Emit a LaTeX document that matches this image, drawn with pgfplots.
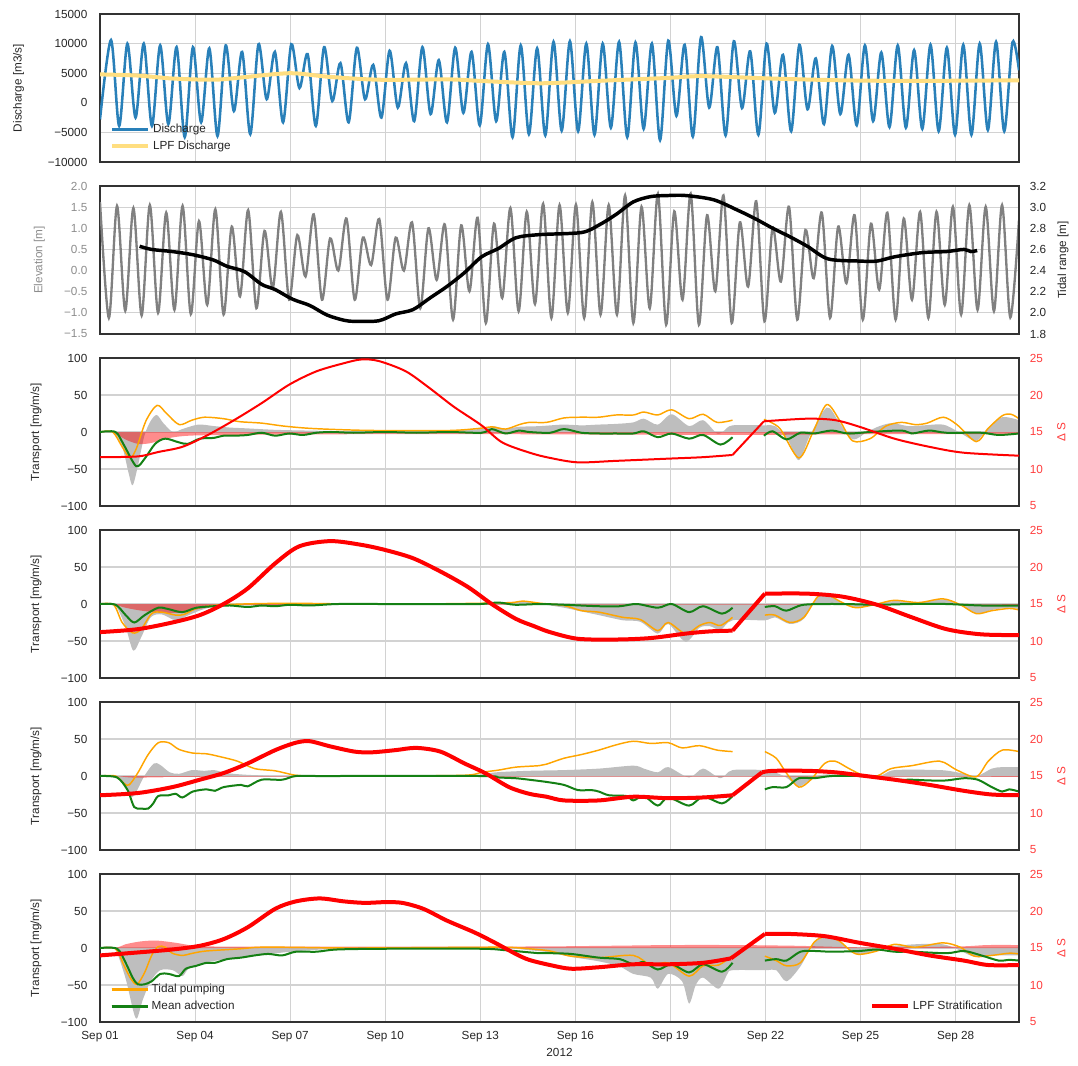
\documentclass[border=0pt]{standalone}
\usepackage{pgfplots}
\pgfplotsset{compat=1.18}
\usepackage{fontspec}
\setmainfont{Liberation Sans}

\definecolor{qblue}{RGB}{41,128,185}
\definecolor{qyellow}{RGB}{255,222,128}
\definecolor{elev}{RGB}{128,128,128}
\definecolor{elevtxt}{RGB}{140,140,140}
\definecolor{qorange}{RGB}{255,165,0}
\definecolor{qgreen}{RGB}{20,128,20}
\definecolor{qred}{RGB}{255,0,0}
\definecolor{redtxt}{RGB}{255,60,60}
\definecolor{shade}{RGB}{190,190,190}
\definecolor{gridc}{RGB}{210,210,210}
\definecolor{framec}{RGB}{50,50,50}
\definecolor{txt}{RGB}{38,38,38}

\newcommand{\tfont}{\fontsize{8.8}{10.5}\selectfont}

\pgfplotsset{
  panel/.style={
    scale only axis, width=689.25pt, height=111pt,
    xmin=0, xmax=29.0, xtick={0,3,...,27},
    major tick length=0pt, scaled ticks=false,
    tick label style={font=\tfont, text=txt},
    axis line style={draw=framec, line width=1.1pt},
    anchor=north west,
  },
  leftpanel/.style={
    panel, grid=major, grid style={draw=gridc, line width=0.8pt},
    xticklabels={},
    yticklabel style={xshift=-6pt},
    every axis y label/.style={at={(axis description cs:#1,0.5)}, rotate=90, anchor=center, font=\tfont, text=txt},
  },
  rightpanel/.style={
    panel, axis x line=none, axis y line*=right,
    yticklabel style={xshift=4.6pt},
    every axis y label/.style={at={(axis description cs:#1,0.5)}, rotate=90, anchor=center, font=\tfont, text=txt},
  },
  leg/.style={
    legend style={draw=none, fill=none, font=\tfont, text=txt, inner sep=0pt, row sep=1pt},
    legend cell align=left,
    legend image code/.code={\draw[##1] (0pt,0pt) -- (22.5pt,0pt); \path (0pt,0pt) -- (27pt,0pt);},
  },
  transport/.style={
    ymin=-100, ymax=100, ytick={-100,-50,0,50,100},
    yticklabels={−100,−50,0,50,100}, ylabel={Transport [mg/m/s]},
  },
  dsalt/.style={
    ymin=5, ymax=25, ytick={5,10,15,20,25}, yticklabels={5,10,15,20,25},
    yticklabel style={text=redtxt}, ylabel={Δ S},
    every axis y label/.append style={text=redtxt},
  },
}

\begin{document}
\begin{tikzpicture}
\path[use as bounding box] (0,0) rectangle (808.5pt,-798.75pt);

% ---------------- Discharge ----------------
\begin{axis}[leftpanel=-0.0885, at={(75pt,-10.5pt)}, leg,
  ymin=-10000, ymax=15000, ytick={-10000,-5000,0,5000,10000,15000},
  yticklabels={−10000,−5000,0,5000,10000,15000},
  ylabel={Discharge [m3/s]},
  legend style={at={(axis description cs:0.011,0.05)}, anchor=south west}]
\addplot[qblue, line width=1.9pt, smooth] coordinates {
(0,-2800)
(0.347,10600) (0.605,-3900) (0.864,10000) (1.122,-2500)
(1.381,10000) (1.639,-3900) (1.899,9700) (2.157,-3600)
(2.416,9400) (2.674,-5800) (2.933,9400) (3.191,-3300)
(3.450,9200) (3.708,-5600) (3.967,9700) (4.225,-1400)
(4.485,8600) (4.743,-5300) (5.002,9900) (5.260,600)
(5.519,8600) (5.777,-3300) (6.036,9900) (6.294,2500)
(6.553,8200) (6.811,-3900) (7.071,9400) (7.329,300)
(7.588,6700) (7.846,-3300) (8.105,9300) (8.363,600)
(8.622,6400) (8.880,-2500) (9.139,8800) (9.397,-800)
(9.657,6700) (9.915,-3100) (10.174,9400) (10.432,-1900)
(10.691,7200) (10.949,-3300) (11.208,9300) (11.466,-1700)
(11.725,8600) (11.983,-3800) (12.243,9900) (12.501,-3100)
(12.760,8600) (13.018,-5800) (13.277,9700) (13.535,-5300)
(13.794,9200) (14.052,-5500) (14.311,10300) (14.569,-4700)
(14.829,10400) (15.087,-4800) (15.346,10000) (15.604,-5400)
(15.863,10000) (16.121,-4200) (16.380,10300) (16.638,-5800)
(16.897,10200) (17.155,-4400) (17.415,10000) (17.673,-6300)
(17.932,10500) (18.190,-2200) (18.449,9800) (18.707,-5700)
(18.966,11100) (19.224,-800) (19.483,9400) (19.741,-5500)
(20.001,10400) (20.259,-900) (20.518,8700) (20.776,-5400)
(21.035,10000) (21.293,-1700) (21.552,8100) (21.810,-4800)
(22.069,9800) (22.327,-1100) (22.587,7500) (22.845,-3600)
(23.104,9600) (23.362,-1900) (23.621,8100) (23.879,-3800)
(24.138,9700) (24.396,-3100) (24.655,8500) (24.913,-4100)
(25.173,9700) (25.431,-4200) (25.690,8900) (25.948,-4400)
(26.207,9800) (26.465,-4800) (26.724,9300) (26.982,-5400)
(27.241,9800) (27.499,-5400) (27.759,10000) (28.017,-4600)
(28.276,10300) (28.534,-4800) (28.793,10200) (29.0,5500)
};
\addlegendentry{Discharge}
\addplot[qyellow, line width=3pt, smooth] coordinates {
(0,4800) (1.2,4600) (2.3,4100) (3.6,3900) (4.5,4300) (6.0,5000)
(7.2,4400) (8.8,3900) (11,3950) (12,3700) (13.9,3300) (15.7,3700)
(17.9,4200) (19,4500) (21.2,4100) (23.4,3800) (25.6,3700) (29.0,3800)
};
\addlegendentry{LPF Discharge}
\end{axis}

% ---------------- Elevation / tidal range ----------------
\begin{axis}[leftpanel=-0.066, at={(75pt,-139.5pt)},
  ymin=-1.5, ymax=2.0, ytick={-1.5,-1,-0.5,0,0.5,1,1.5,2},
  yticklabels={−1.5,−1.0,−0.5,0.0,0.5,1.0,1.5,2.0},
  yticklabel style={text=elevtxt},
  ylabel={Elevation [m]}, every axis y label/.append style={text=elevtxt}]
\addplot[elev, line width=1.75pt, smooth] coordinates {
(0,1.62) (0.280,-1.12)
(0.537,1.53) (0.797,-0.95) (1.054,1.48) (1.314,-1.06)
(1.572,1.55) (1.832,-1.00) (2.089,1.37) (2.349,-0.93)
(2.606,1.53) (2.866,-1.03) (3.123,1.17) (3.383,-0.81)
(3.640,1.45) (3.900,-1.04) (4.158,1.04) (4.418,-0.61)
(4.675,1.43) (4.935,-0.89) (5.192,0.94) (5.452,-0.42)
(5.709,1.39) (5.969,-0.69) (6.226,0.84) (6.486,-0.14)
(6.744,1.33) (7.004,-0.69) (7.261,0.76) (7.521,0.00)
(7.778,1.23) (8.038,-0.69) (8.295,0.78) (8.555,0.13)
(8.812,1.22) (9.072,-0.69) (9.330,0.78) (9.590,0.00)
(9.847,1.14) (10.107,-0.89) (10.364,1.00) (10.624,-0.22)
(10.881,1.09) (11.141,-1.16) (11.398,1.07) (11.658,-0.49)
(11.916,1.25) (12.176,-1.24) (12.433,1.11) (12.693,-0.65)
(12.950,1.48) (13.210,-0.96) (13.467,1.39) (13.727,-0.79)
(13.984,1.58) (14.244,-1.12) (14.502,1.55) (14.762,-1.00)
(15.019,1.56) (15.279,-1.12) (15.536,1.62) (15.796,-1.04)
(16.053,1.55) (16.313,-1.04) (16.570,1.78) (16.830,-1.24)
(17.088,1.51) (17.348,-0.89) (17.605,1.82) (17.865,-1.28)
(18.122,1.40) (18.382,-0.69) (18.639,1.82) (18.899,-1.28)
(19.156,1.31) (19.416,-0.49) (19.674,1.78) (19.934,-1.24)
(20.191,1.14) (20.451,-0.38) (20.708,1.64) (20.968,-1.20)
(21.225,1.01) (21.485,-0.26) (21.742,1.51) (22.002,-1.16)
(22.260,0.96) (22.520,-0.18) (22.777,1.37) (23.037,-1.12)
(23.294,1.04) (23.554,-0.30) (23.811,1.31) (24.071,-1.16)
(24.328,1.11) (24.588,-0.45) (24.846,1.37) (25.106,-1.16)
(25.363,1.23) (25.623,-0.69) (25.880,1.39) (26.140,-1.12)
(26.397,1.39) (26.657,-0.81) (26.914,1.51) (27.174,-1.04)
(27.432,1.55) (27.692,-0.93) (27.949,1.51) (28.209,-0.96)
(28.466,1.55) (28.726,-1.11) (29.0,1.20)
};
\end{axis}
\begin{axis}[rightpanel=1.048, at={(75pt,-139.5pt)},
  ymin=1.8, ymax=3.2, ytick={1.8,2.0,2.2,2.4,2.6,2.8,3.0,3.2},
  yticklabels={1.8,2.0,2.2,2.4,2.6,2.8,3.0,3.2},
  ylabel={Tidal range [m]}]
\addplot[black, line width=2.6pt, smooth] coordinates {
(1.25,2.63) (1.63,2.60) (2.28,2.58) (2.93,2.55) (3.58,2.50) (4.01,2.44)
(4.56,2.39) (5.10,2.27) (5.53,2.22) (6.07,2.13) (6.62,2.07) (7.16,1.98)
(7.70,1.93) (8.03,1.92) (8.79,1.925) (9.33,1.99) (9.87,2.03) (10.41,2.14)
(10.95,2.25) (11.50,2.38) (12.04,2.53) (12.58,2.61) (13.12,2.71) (13.86,2.74)
(15.19,2.76) (15.74,2.83) (16.28,2.93) (16.83,3.05) (17.38,3.10) (17.93,3.11)
(18.48,3.11) (19.36,3.07) (20.13,2.97) (20.68,2.89) (21.23,2.80) (21.77,2.72)
(22.32,2.63) (22.98,2.51) (23.97,2.49) (24.52,2.49) (25.07,2.53) (25.95,2.57)
(26.71,2.58) (27.26,2.60) (27.48,2.58) (27.68,2.59)
};
\end{axis}

% ---------------- Transport, station A ----------------
\begin{axis}[leftpanel=-0.0696, at={(75pt,-268.5pt)}, transport]
\addplot[draw=none, fill=shade, smooth] coordinates {
(0,0) (0.4,0) (0.7,-20) (0.9,-55) (1.03,-72) (1.2,-45) (1.4,-5) (1.6,15)
(1.79,23) (2.0,12) (2.3,0) (2.6,4) (3.1,10) (3.6,8) (4.1,6) (4.6,5) (5.5,3)
(6.5,2) (8,1) (10,1) (12,4) (12.4,8) (12.8,4) (13.2,7) (13.9,8) (14.6,10)
(15.2,9) (15.7,10) (16.3,11) (16.83,13) (17.16,18) (17.6,10) (18.04,24)
(18.59,8) (19.03,16) (19.47,-2) (19.7,2) (19.96,9) (20.95,9) (21.3,8)
(21.7,-10) (22.05,-38) (22.4,-5) (22.93,33) (23.3,15) (23.75,-10) (24.2,0)
(24.6,8) (25.0,12) (25.5,8) (26.0,9) (26.61,10) (27.1,0) (27.65,-12)
(28.0,5) (28.47,20) (29.0,16)
} \closedcycle;
\addplot[draw=none, fill=red, fill opacity=0.45, smooth] coordinates {
(0,0) (0.4,0) (0.8,-10) (1.2,-16) (1.6,-15) (2.2,-8) (2.8,-5) (4,-4) (8,-3)
(13,-3) (20,-4) (24,-3) (29.0,-3)
} \closedcycle;
\addplot[qorange, line width=1.1pt, smooth] coordinates {
(0,0) (0.4,0) (0.7,-20) (0.95,-35) (1.15,-22) (1.45,15) (1.8,36) (2.1,25)
(2.5,10) (2.9,16) (3.3,20) (3.9,18) (4.4,14) (5.1,12) (5.8,8) (6.6,5)
(7.7,3) (8.8,2) (11,2) (12,5) (12.36,7) (12.8,4) (13.23,10) (13.54,13)
(14.09,13) (14.64,19) (15.19,20) (15.74,20) (16.28,23) (16.83,23)
(17.16,27) (17.6,23) (18.04,30) (18.59,18) (19.03,24) (19.47,13) (19.96,16)
};
\addplot[qorange, line width=1.1pt, smooth] coordinates {
(20.95,17) (21.45,5) (22.05,-35) (22.5,0) (22.93,37) (23.35,15) (23.75,-12)
(24.3,-9) (24.8,8) (25.29,13) (25.73,10) (26.1,12) (26.61,20) (27.04,10)
(27.65,-13) (28.03,5) (28.47,22) (28.75,24) (29.0,18)
};
\addplot[qgreen, line width=1.5pt, smooth] coordinates {
(0,0) (0.49,0) (0.76,-18) (1.14,-46) (1.41,-36) (1.74,-16) (2.06,-9)
(2.49,-14) (2.77,-16) (3.15,-9) (3.58,-8) (3.9,-5) (4.23,-5) (4.66,-4)
(5.1,-1) (5.53,-5) (5.97,-2) (6.4,-4) (6.83,-1) (7.3,0) (8,-1) (9,0)
(10,-1) (11,0) (12.04,-1) (12.36,4) (12.8,-2) (13.23,2) (13.54,0) (14.2,-1)
(14.64,4) (15.19,-1) (15.74,-2) (16.28,-2) (16.83,-2) (17.16,1) (17.6,-7)
(18.04,-2) (18.59,-9) (19.03,-4) (19.58,-17) (19.96,-7)
};
\addplot[qgreen, line width=1.5pt, smooth] coordinates {
(20.95,-5) (21.23,1) (21.66,-10) (22.1,-1) (22.54,-2) (23.09,2) (23.6,-2)
(24.3,0) (25.29,2) (25.62,-2) (26.17,2) (26.71,-1) (27.8,-1) (28.36,-4)
(29.0,-2)
};
\end{axis}
\begin{axis}[rightpanel=1.046, at={(75pt,-268.5pt)}, dsalt]
\addplot[qred, line width=1.5pt, smooth] coordinates {
(0,11.6) (1.19,11.7) (1.84,12.3) (2.6,13.0) (3.36,14.5) (4.23,16.6)
(5.1,18.9) (5.97,21.4) (6.83,23.2) (7.7,24.3) (8.24,24.8) (8.79,24.6)
(9.65,23.2) (10.41,20.9) (11.17,18.4) (12.04,15.9) (12.69,13.6)
(13.56,12.2) (14.2,11.5) (15.08,10.9) (16.28,11.1) (17.93,11.4)
(19.03,11.6) (19.96,11.9)
};
\addplot[qred, line width=1.5pt] coordinates {(19.96,11.9) (20.95,16.45)};
\addplot[qred, line width=1.5pt, smooth] coordinates {
(20.95,16.45) (22.32,16.8) (23.2,16.6) (23.97,15.7) (25.07,14.1)
(26.17,13.0) (27.26,12.2) (29.0,11.8)
};
\end{axis}

% ---------------- Transport, station B ----------------
\begin{axis}[leftpanel=-0.0696, at={(75pt,-397.5pt)}, transport]
\addplot[draw=none, fill=shade, smooth] coordinates {
(0,0) (0.45,0) (0.8,-30) (1.05,-63) (1.3,-45) (1.6,-18) (1.95,-14)
(2.39,-22) (2.8,-15) (3.2,-8) (3.6,-4) (4.5,-2) (6,-1) (10,-1) (12.5,0)
(13.34,3) (13.9,0) (14.64,-5) (15.19,-10) (15.74,-15) (16.5,-22)
(17.05,-24) (17.6,-40) (17.93,-27) (18.48,-51) (18.92,-32) (19.25,-30)
(19.58,-35) (19.96,-22) (20.98,-22) (21.3,-18) (21.77,-27) (22.21,-20)
(22.65,10) (22.98,12) (23.42,1) (23.86,-5) (24.52,0) (25.07,4) (25.84,2)
(26.6,6) (27.15,-1) (27.65,-13) (28.14,-8) (28.69,-5) (29.0,-7)
} \closedcycle;
\addplot[draw=none, fill=red, fill opacity=0.45, smooth] coordinates {
(0,0) (0.4,0) (0.8,-5) (1.5,-10) (2.5,-12) (3.2,-6) (4,-2) (6,-1) (29.0,-1)
} \closedcycle;
\addplot[qorange, line width=1.1pt, smooth] coordinates {
(0,0) (0.43,-1) (0.7,-25) (1.03,-39) (1.3,-34) (1.63,-13) (1.95,-11)
(2.39,-15) (2.66,-14) (3.04,-6) (3.58,-2) (4.5,0) (6,1) (8,0) (10,0)
(12,1) (13.0,2) (13.34,4) (13.9,1) (14.64,-2) (15.19,-9) (15.74,-11)
(16.5,-18) (17.05,-21) (17.6,-36) (17.93,-25) (18.48,-40) (18.92,-29)
(19.25,-25) (19.58,-29) (19.96,-18)
};
\addplot[qorange, line width=1.1pt, smooth] coordinates {
(20.98,-15) (21.3,-15) (21.77,-25) (22.21,-18) (22.65,10) (22.98,12)
(23.42,2) (23.86,-5) (24.52,0) (25.07,5) (25.84,2) (26.6,7) (27.15,-1)
(27.65,-13) (28.14,-9) (28.69,-6) (29.0,-8)
};
\addplot[qgreen, line width=1.5pt, smooth] coordinates {
(0,0) (0.49,-1) (0.81,-15) (1.08,-25) (1.41,-15) (1.84,-5) (2.17,-7)
(2.6,-11) (3.04,-5) (3.58,-3) (4.1,-2) (4.66,-4) (5.1,-2) (5.53,-3)
(6.0,-1) (6.62,-2) (7.5,0) (9,0) (11,0) (12.0,0) (12.58,2) (13.1,-1)
(13.9,0) (14.64,-1) (15.74,-3) (16.4,-3) (16.94,0) (17.6,-5) (18.04,0)
(18.59,-11) (19.03,-3) (19.63,-13) (19.96,-5)
};
\addplot[qgreen, line width=1.5pt, smooth] coordinates {
(20.98,-4) (21.3,-3) (21.66,-9) (22.21,-1) (23.4,0) (24.5,-1) (25.6,0)
(26.7,0) (27.8,-2) (29.0,-2)
};
\end{axis}
\begin{axis}[rightpanel=1.046, at={(75pt,-397.5pt)}, dsalt]
\addplot[qred, line width=3pt, smooth] coordinates {
(0,11.2) (1.19,11.6) (2.28,12.5) (3.15,13.5) (3.9,15.0) (4.66,17.1)
(5.53,20.5) (6.29,22.8) (7.27,23.5) (8.24,23.0) (9.0,22.3) (9.87,21.2)
(10.74,19.4) (11.61,17.3) (12.36,15.0) (13.12,13.0) (13.7,12.0)
(14.2,11.2) (15.08,10.3) (16.28,10.2) (17.38,10.4) (18.48,11.0)
(19.25,11.3) (19.96,11.4)
};
\addplot[qred, line width=3pt] coordinates {(19.96,11.4) (20.98,16.4)};
\addplot[qred, line width=3pt, smooth] coordinates {
(20.98,16.4) (22.32,16.4) (23.42,16.0) (24.52,14.9) (25.62,13.2)
(26.71,11.6) (27.81,10.9) (29.0,10.8)
};
\end{axis}

% ---------------- Transport, station C ----------------
\begin{axis}[leftpanel=-0.0696, at={(75pt,-526.5pt)}, transport]
\addplot[draw=none, fill=shade, smooth] coordinates {
(0,0) (0.5,0) (0.8,-15) (0.95,-28) (1.1,-25) (1.4,0) (1.7,17) (1.9,15)
(2.2,5) (2.5,3) (2.9,8) (3.3,7) (3.6,8) (4.0,4) (4.5,2) (5,1) (6,0) (11,0)
(12.0,2) (12.5,5) (13.5,7) (14.64,8) (15.74,10) (16.83,14) (17.16,10)
(17.6,5) (17.93,12) (18.59,-2) (19.03,10) (19.58,-3) (19.96,8) (20.98,8)
(21.3,5) (21.66,-2) (22.05,-14) (22.43,-5) (22.87,2) (24.52,0) (25.07,8)
(26.5,8) (27.04,5) (27.65,0) (28.14,10) (28.47,12) (29.0,12)
} \closedcycle;
\addplot[draw=none, fill=red, fill opacity=0.45, smooth] coordinates {
(0,0) (0.5,0) (1,-2) (2,-2) (3,-1) (29.0,-1)
} \closedcycle;
\addplot[qorange, line width=1.1pt, smooth] coordinates {
(0,0) (0.49,0) (0.76,-10) (0.92,-12) (1.19,4) (1.52,29) (1.84,45)
(2.17,45) (2.49,36) (2.93,31) (3.36,30) (3.8,26) (4.34,20) (4.88,10)
(5.53,7) (6.18,1) (6.83,0) (9,0) (11.5,1) (12.04,5) (12.58,8) (13.12,12)
(13.86,14) (14.09,16) (14.64,24) (15.19,29) (15.74,35) (16.28,42)
(16.83,47) (17.38,44) (17.93,45) (18.37,38) (18.92,41) (19.47,35) (19.96,33)
};
\addplot[qorange, line width=1.1pt, smooth] coordinates {
(20.98,33) (21.34,24) (21.66,4) (22.05,-15) (22.43,-5) (22.87,17) (23.2,20)
(23.64,10) (24.08,1) (24.52,0) (24.96,10) (25.62,14) (26.5,20) (27.04,8)
(27.65,-1) (28.03,20) (28.47,35) (29.0,33)
};
\addplot[qgreen, line width=1.5pt, smooth] coordinates {
(0,0) (0.54,-2) (0.87,-19) (1.08,-42) (1.3,-44) (1.52,-44) (1.68,-37)
(1.84,-27) (2.17,-26) (2.39,-24) (2.6,-29) (2.93,-21) (3.36,-18)
(3.63,-20) (3.9,-15) (4.45,-12) (4.66,-14) (5.1,-5) (5.75,-5) (6.18,0)
(7,0) (12,0) (12.58,-2) (13.12,-3) (13.54,-5) (14.09,-8) (14.64,-12)
(15.08,-19) (15.5,-19) (15.74,-21) (16.06,-26) (16.61,-27) (16.83,-33)
(17.16,-27) (17.6,-40) (17.93,-29) (18.59,-40) (19.03,-28) (19.63,-37)
(19.96,-27)
};
\addplot[qgreen, line width=1.5pt, smooth] coordinates {
(20.98,-18) (21.23,-15) (21.66,-15) (22.05,-3) (22.54,-3) (23.09,0)
(23.97,0) (24.52,-1) (25.07,-5) (25.62,-5) (26.17,-6) (26.71,-6)
(27.26,-3) (27.7,-5) (28.14,-15) (28.47,-21) (28.69,-18) (29.0,-21)
};
\end{axis}
\begin{axis}[rightpanel=1.046, at={(75pt,-526.5pt)}, dsalt]
\addplot[qred, line width=3pt, smooth] coordinates {
(0,12.4) (1.19,12.7) (2.28,13.5) (3.15,14.5) (3.9,15.4) (4.66,16.7)
(5.53,18.5) (6.18,19.5) (6.62,19.7) (7.27,19.0) (8.03,18.3) (8.57,18.2)
(9.33,18.5) (9.98,18.8) (10.74,18.3) (11.5,16.7) (12.15,15.4) (12.91,13.5)
(13.54,12.6) (14.09,12.2) (14.64,11.7) (15.74,11.7) (16.83,12.2)
(17.93,12.0) (19.03,12.1) (19.96,12.4)
};
\addplot[qred, line width=3pt] coordinates {(19.96,12.4) (20.89,15.5)};
\addplot[qred, line width=3pt, smooth] coordinates {
(20.89,15.5) (21.23,15.7) (22.32,15.7) (23.2,15.5) (23.97,15.1)
(25.07,14.5) (26.17,13.8) (27.26,13.0) (28.14,12.5) (29.0,12.4)
};
\end{axis}

% ---------------- Transport, station D ----------------
\begin{axis}[leftpanel=-0.0696, at={(75pt,-655.5pt)}, transport, leg,
  xticklabels={Sep 01,Sep 04,Sep 07,Sep 10,Sep 13,Sep 16,Sep 19,Sep 22,Sep 25,Sep 28},
  xticklabel style={yshift=-3.5pt},
  xlabel={2012},
  every axis x label/.style={at={(axis description cs:0.5,-0.203)}, anchor=center, font=\tfont, text=txt},
  legend image post style={line width=2pt},
  legend style={at={(axis description cs:0.011,0.05)}, anchor=south west}]
\addplot[draw=none, fill=shade, smooth, forget plot] coordinates {
(0,0) (0.45,0) (0.8,-40) (1.05,-85) (1.17,-95) (1.35,-70) (1.6,-45)
(1.9,-30) (2.3,-30) (2.6,-38) (2.8,-28) (3.3,-20) (4,-15) (5,-10) (6,-5)
(7,-2) (8,0) (12.5,0) (13.54,-3) (14.2,-6) (14.86,-12) (15.74,-18)
(16.4,-25) (16.83,-35) (17.38,-40) (17.6,-55) (17.93,-35) (18.37,-45)
(18.59,-75) (18.8,-50) (19.03,-40) (19.52,-55) (19.8,-35) (19.96,-30)
(20.98,-30) (21.34,-30) (21.66,-45) (22.1,-25) (22.5,5) (22.87,15)
(23.3,10) (23.86,-8) (24.52,-4) (25.07,3) (26.6,5) (27.59,-12) (28.14,-10)
(29.0,-10)
} \closedcycle;
\addplot[draw=none, fill=red, fill opacity=0.45, smooth, forget plot] coordinates {
(0,0) (0.5,0) (0.8,5) (1.3,9) (1.8,10) (2.4,7) (3,3) (4,2) (13,2) (16,3)
(18,4) (20,4) (22,3) (24,1) (27,2) (28,4) (29.0,4)
} \closedcycle;
\addplot[qorange, line width=1.1pt, smooth] coordinates {
(0,0) (0.49,-1) (0.76,-24) (0.98,-42) (1.17,-49) (1.41,-33) (1.63,-10)
(1.84,2) (2.06,1) (2.28,-7) (2.6,-10) (2.93,-7) (3.36,-4) (4.45,-1)
(4.99,1) (6,1) (8,0) (12,1) (12.9,1) (13.54,-1) (14.2,-4) (14.86,-11)
(15.74,-13) (16.83,-10) (17.38,-23) (17.93,-20) (18.59,-38) (19.03,-24)
(19.52,-23) (19.96,-10)
};
\addlegendentry{Tidal pumping}
\addplot[qorange, line width=1.1pt, smooth, forget plot] coordinates {
(20.98,-11) (21.34,-17) (21.66,-24) (22.1,-20) (22.54,8) (22.87,15)
(23.31,10) (23.86,-8) (24.52,-4) (25.07,5) (25.73,1) (26.6,7) (27.15,1)
(27.59,-11) (28.14,-10) (28.69,-7) (29.0,-8)
};
\addplot[qgreen, line width=1.5pt, smooth] coordinates {
(0,0) (0.54,-1) (0.81,-20) (1.03,-40) (1.19,-49) (1.41,-49) (1.63,-45)
(1.9,-35) (2.17,-35) (2.49,-38) (2.71,-28) (3.04,-24) (3.36,-20)
(3.63,-20) (4.01,-15) (4.45,-13) (4.88,-10) (5.31,-8) (5.75,-10)
(6.18,-5) (6.83,-5) (7.48,-2) (9,-1) (12,-1) (12.8,-3) (13.86,-7)
(14.2,-7) (14.86,-8) (15.74,-13) (16.4,-15) (16.83,-22) (17.16,-19)
(17.6,-29) (18.04,-22) (18.59,-33) (19.03,-22) (19.63,-32) (19.96,-20)
};
\addlegendentry{Mean advection}
\addplot[qgreen, line width=1.5pt, smooth, forget plot] coordinates {
(20.98,-17) (21.34,-15) (21.66,-17) (22.1,-5) (22.54,-4) (23.09,-5)
(23.97,-4) (24.52,-2) (25.07,-5) (25.62,-5) (26.71,-7) (27.26,-4)
(27.81,-10) (28.36,-17) (28.69,-16) (29.0,-17)
};
\end{axis}
\begin{axis}[rightpanel=1.046, at={(75pt,-655.5pt)}, dsalt, leg,
  legend style={at={(axis description cs:0.985,0.05)}, anchor=south east}]
\addplot[qred, line width=3pt, smooth] coordinates {
(0,14.0) (1.19,14.4) (2.28,14.8) (3.15,15.3) (3.9,16.2) (4.66,17.8)
(5.53,20.3) (6.18,21.3) (6.94,21.7) (7.7,21.3) (8.35,21.1) (9.0,21.2)
(9.54,21.1) (10.2,20.3) (10.95,18.7) (11.82,17.1) (12.47,15.7)
(13.12,14.2) (13.54,13.4) (14.2,12.7) (14.86,12.2) (15.74,12.4)
(16.83,12.8) (17.93,12.8) (19.03,13.0) (19.91,13.6)
};
\addlegendentry{LPF Stratification}
\addplot[qred, line width=3pt, forget plot] coordinates {(19.91,13.6) (20.98,16.9)};
\addplot[qred, line width=3pt, smooth, forget plot] coordinates {
(20.98,16.9) (21.77,16.9) (22.87,16.6) (23.97,15.7) (25.07,14.9)
(26.17,14.0) (27.26,13.3) (28.03,12.7) (29.0,12.7)
};
\end{axis}
\end{tikzpicture}
\end{document}
